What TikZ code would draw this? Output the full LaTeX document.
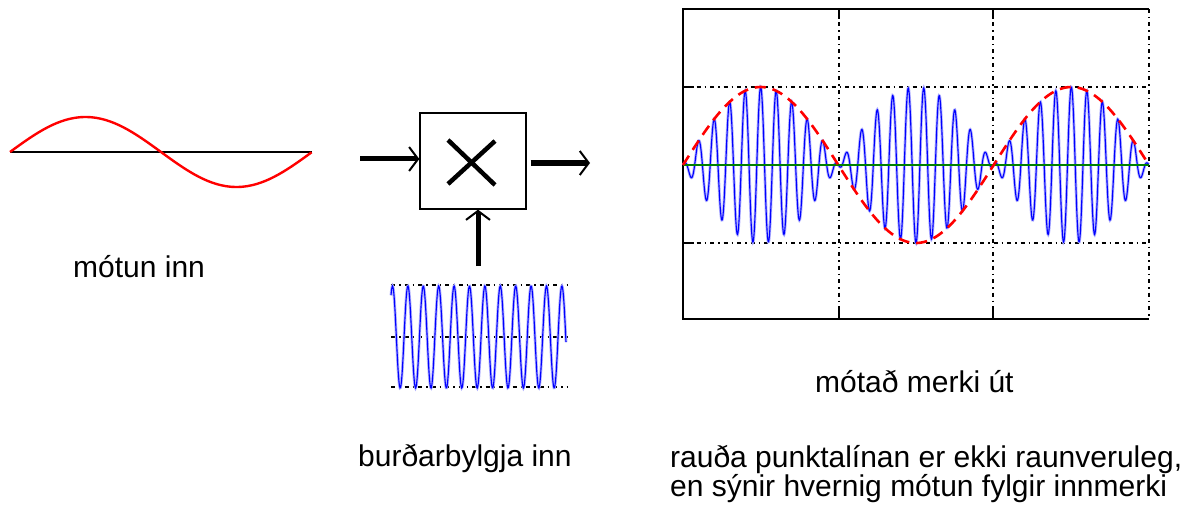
\documentclass[tikz,border=0pt]{standalone}
\usepackage{fontspec}
\setmainfont{Liberation Sans}
\usetikzlibrary{arrows.meta}
\begin{document}
\begin{tikzpicture}[x=1pt,y=-1pt,
  lbl/.style={anchor=base west,inner sep=0pt,font=\fontsize{30}{28}\selectfont},
  arr/.style={line width=5pt,-{Straight Barb[length=9pt,width=24pt,line width=2pt]}},
  gridln/.style={line width=1.3pt,dash pattern=on 4pt off 4pt on 1.5pt off 4pt},
  ax/.style={line width=1.4pt},
  halo/.style={blue!30,line width=2.8pt},
  wave/.style={blue,line width=1.1pt},
  env/.style={red,line width=2.6pt,dash pattern=on 11pt off 7pt},
  redsine/.style={red,line width=2.4pt}
]
\useasboundingbox (0,0) rectangle (1194,508);
\fill[white] (0,0) rectangle (1194,508);

% ---- modulating signal (left)
\draw[line width=2pt] (10,152) -- (312,152);
\draw[redsine] plot[domain=0:1,samples=120] ({10+302*\x},{152-35*sin(360*\x)});
\node[lbl] (tmod) at (73,277) {mótun inn};

% ---- multiplier
\node[draw,line width=1.3pt,minimum width=106pt,minimum height=96pt,inner sep=0pt] (mult) at (473,161) {};
\draw[line width=4.5pt] (448,140) -- (495,185);
\draw[line width=4.5pt] (495,141) -- (448,184);
\coordinate (inL) at (360,159);
\coordinate (outR) at (590,163);
\coordinate (inB) at (478,266);
\draw[arr] (inL) -- (mult.west |- inL);
\draw[arr,shorten <=4pt] (mult.east |- outR) -- (outR);
\draw[arr] (inB) -- (mult.south -| inB);

% ---- carrier
\foreach \yy in {285,337,387} \draw[gridln] (391,\yy) -- (567,\yy);
\draw[halo] plot[domain=0:175,samples=350] ({391+\x},{337-51*cos(23.3766*\x-35)});
\draw[wave] plot[domain=0:175,samples=350] ({391+\x},{337-51*cos(23.3766*\x-35)});
\node[lbl] (tcar) at (358,466) {burðarbylgja inn};

% ---- output plot
\foreach \xx in {839,993,1149} \draw[gridln] (\xx,9) -- (\xx,319);
\foreach \yy in {87,243} \draw[gridln] (683,\yy) -- (1149,\yy);
\draw[ax] (1149,9) -- (683,9) -- (683,319) -- (1149,319);
\foreach \xx in {839,993} {\draw[ax] (\xx,9) -- (\xx,19); \draw[ax] (\xx,319) -- (\xx,309);}
\foreach \yy in {87,243} \draw[ax] (683,\yy) -- (694,\yy);
\draw[halo] plot[domain=0:1,samples=1200] ({683+466*\x},{165-78*sin(540*\x)*cos(10800*\x)});
\draw[wave] plot[domain=0:1,samples=1200] ({683+466*\x},{165-78*sin(540*\x)*cos(10800*\x)});
\draw[green!50!black,line width=1.8pt] (683,165) -- (1149,165);
\draw[env] plot[domain=0:1,samples=200] ({683+466*\x},{165-78*sin(540*\x)});
\node[lbl] (tout) at (815,392) {mótað merki út};
\node[lbl,align=left,anchor=north west] (tnote) at (670,445) {rauða punktalínan er ekki raunveruleg,\\en sýnir hvernig mótun fylgir innmerki};
\end{tikzpicture}
\end{document}
